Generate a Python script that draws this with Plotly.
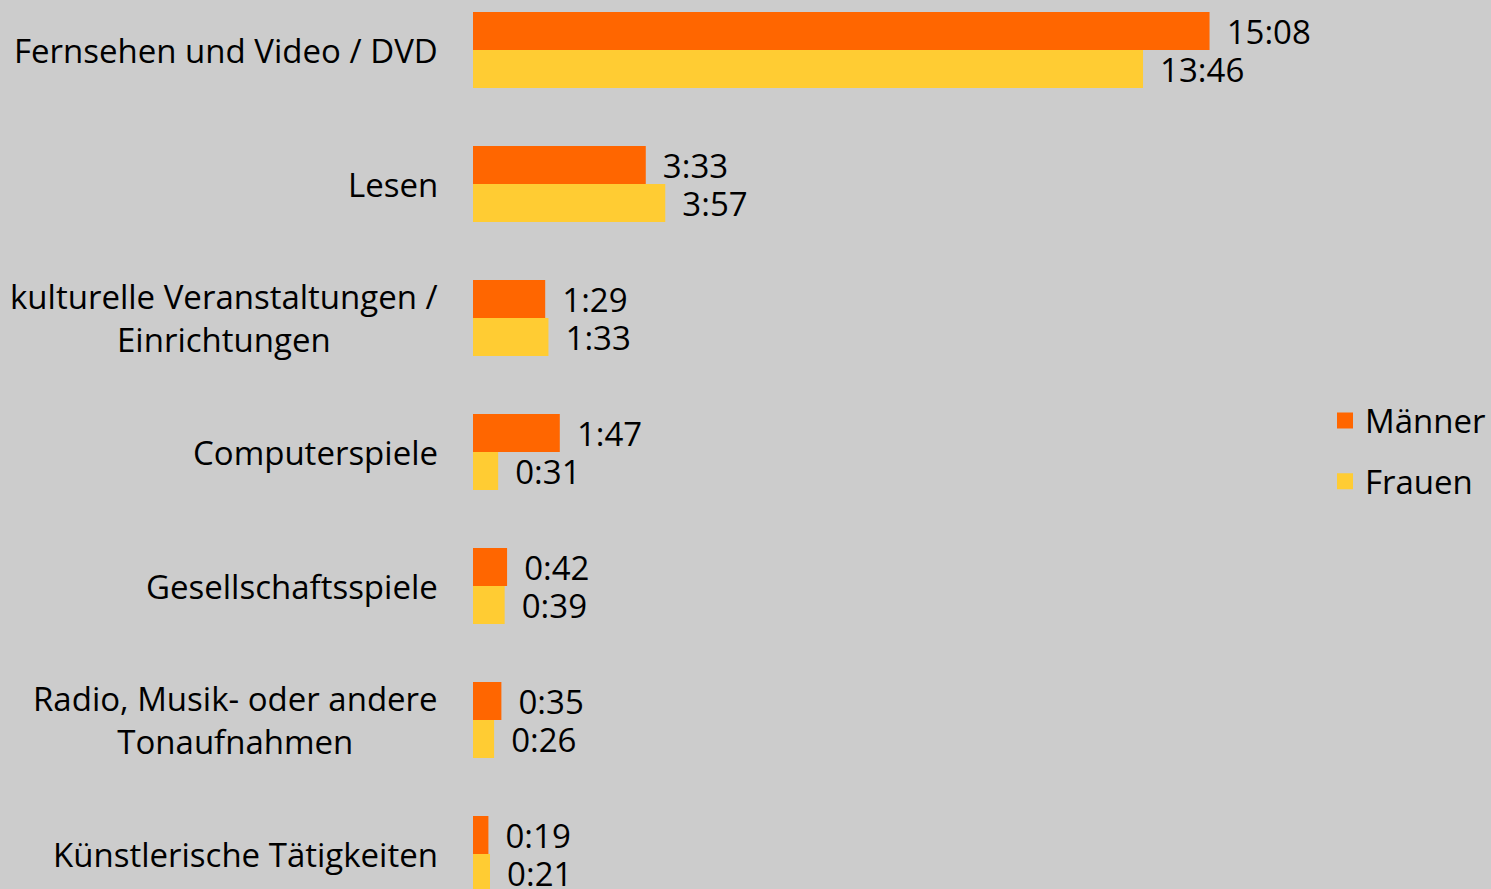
import plotly.graph_objects as go

categories = [
    "Fernsehen und Video / DVD",
    "Lesen",
    "kulturelle Veranstaltungen /<br>Einrichtungen",
    "Computerspiele",
    "Gesellschaftsspiele",
    "Radio, Musik- oder andere<br>Tonaufnahmen",
    "Künstlerische Tätigkeiten",
]
maenner_labels = ["15:08", "3:33", "1:29", "1:47", "0:42", "0:35", "0:19"]
frauen_labels = ["13:46", "3:57", "1:33", "0:31", "0:39", "0:26", "0:21"]
series_names = ["Männer", "Frauen"]
series_colors = ["#FF6600", "#FFCC33"]


def to_minutes(s):
    h, m = s.split(":")
    return int(h) * 60 + int(m)


maenner = [to_minutes(s) for s in maenner_labels]
frauen = [to_minutes(s) for s in frauen_labels]

FONT = "Open Sans"
FS = 33
BG = "#CCCCCC"

W, H = 1491, 889
ML = 473
plot_w = W - ML
px_per_min = 738 / 908.0

fig = go.Figure()
for vals, labels, name, col in [(maenner, maenner_labels, series_names[0], series_colors[0]),
                                (frauen, frauen_labels, series_names[1], series_colors[1])]:
    fig.add_trace(go.Bar(
        y=categories, x=vals, orientation="h", name=name,
        marker=dict(color=col, line=dict(width=0)),
        text=labels, texttemplate="\u00a0\u2006%{text}",
        textposition="outside", constraintext="none", cliponaxis=False,
        textfont=dict(family=FONT, size=FS, color="#000000"),
        showlegend=False,
    ))

# legend entries (square symbols)
for name, col in zip(series_names, series_colors):
    fig.add_trace(go.Scatter(
        x=[None], y=[None], mode="markers", name=name,
        marker=dict(symbol="square", size=16, color=col, line=dict(width=0)),
        legendgroup=name, showlegend=True,
    ))

for c in categories:
    fig.add_annotation(
        x=0, xref="paper", xshift=-33, xanchor="right",
        y=c, yref="y", yanchor="middle",
        text=c, showarrow=False, align="center",
        font=dict(family=FONT, size=FS, color="#000000"),
    )

band = 134.0
top_units = -50.0 / band
bottom_units = 6 + (H - 854.0) / band

fig.update_layout(
    width=W, height=H,
    margin=dict(l=ML, r=0, t=0, b=0, pad=0),
    paper_bgcolor=BG, plot_bgcolor=BG,
    barmode="group", bargap=1 - 76.0 / band, bargroupgap=0,
    font=dict(family=FONT, size=FS, color="#000000"),
    showlegend=True,
    legend=dict(
        x=(1337 - 473 - 10) / plot_w, xanchor="left",
        y=1 - 451.0 / H, yanchor="middle",
        bgcolor="rgba(0,0,0,0)", borderwidth=0,
        font=dict(family=FONT, size=FS, color="#000000"),
        traceorder="grouped", tracegroupgap=15, itemsizing="trace",
    ),
    xaxis=dict(range=[0, plot_w / px_per_min], visible=False,
               showgrid=False, zeroline=False, fixedrange=True),
    yaxis=dict(range=[bottom_units, top_units], showticklabels=False,
               showgrid=False, zeroline=False, showline=False,
               ticks="", fixedrange=True),
)

fig.write_html("out.html", config={"displayModeBar": False},
               post_script="document.body.style.margin='0';document.body.style.overflow='hidden';")
